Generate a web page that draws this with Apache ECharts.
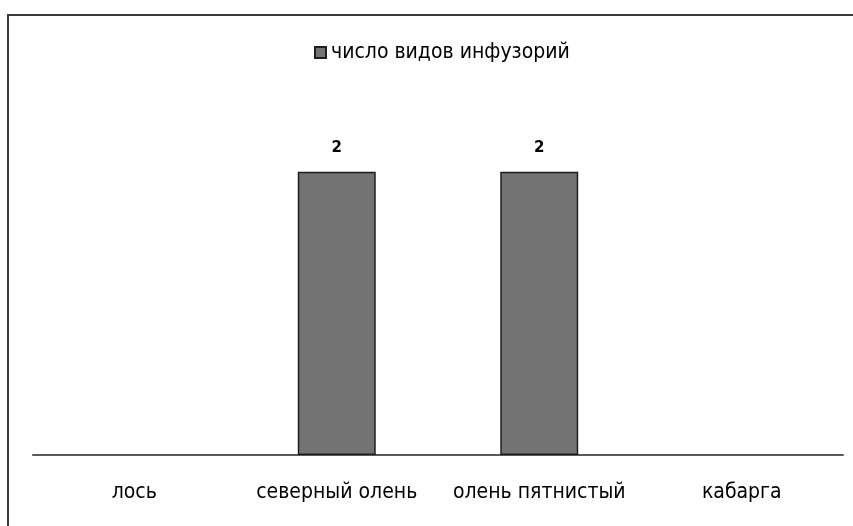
<!DOCTYPE html>
<html>
<head>
<meta charset="utf-8">
<script src="https://cdn.jsdelivr.net/npm/echarts@6/dist/echarts.min.js"></script>
<style>
  html, body { margin: 0; padding: 0; background: #ffffff; }
  #chart { width: 853px; height: 526px; }
</style>
</head>
<body>
<div id="chart"></div>
<script>
// Number of ciliate species found per host species
const categories = ['лось', 'северный олень', 'олень пятнистый', 'кабарга'];
const seriesName = 'число видов инфузорий';
const speciesCount = [0, 2, 2, 0];

const chart = echarts.init(document.getElementById('chart'));
const font = 'DejaVu Sans Condensed';

// zero-height bars get no outline so nothing is drawn on the axis
const barData = speciesCount.map(v => ({
  value: v,
  itemStyle: v === 0 ? { borderWidth: 0 } : undefined
}));

chart.setOption({
  backgroundColor: '#ffffff',
  animation: false,
  graphic: [
    {
      type: 'polyline',
      shape: { points: [[8, 530], [8, 15], [860, 15]] },
      style: { stroke: '#3a3a3a', lineWidth: 2, fill: null }
    }
  ],
  legend: {
    top: 37,
    left: 309,
    itemWidth: 11,
    itemHeight: 11,
    itemGap: 3,
    icon: 'rect',
    textStyle: { fontFamily: font, fontSize: 21, color: '#000' },
    data: [seriesName]
  },
  grid: { left: 33, right: 10, top: 101, bottom: 71, containLabel: false },
  xAxis: {
    type: 'category',
    data: categories,
    axisLine: { lineStyle: { color: '#5a5a5a', width: 2 } },
    axisTick: { show: false },
    axisLabel: { interval: 0, margin: 27, fontFamily: font, fontSize: 21, color: '#000' }
  },
  yAxis: {
    type: 'value',
    min: 0,
    max: 2.5,
    show: false,
    splitLine: { show: false }
  },
  series: [
    {
      name: seriesName,
      type: 'bar',
      data: barData,
      barWidth: '38.5%',
      itemStyle: { color: '#737373', borderColor: '#1e1e1e', borderWidth: 1.5 },
      label: {
        show: true,
        position: 'top',
        distance: 16,
        fontFamily: 'DejaVu Sans',
        fontSize: 15,
        fontWeight: 'bold',
        color: '#000',
        formatter: p => (p.value ? String(p.value) : '')
      }
    }
  ]
});
</script>
</body>
</html>
